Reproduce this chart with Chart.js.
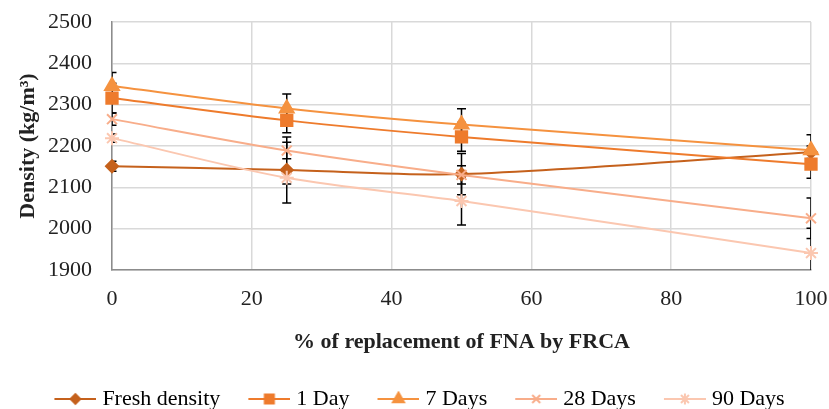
<!DOCTYPE html>
<html>
<head>
<meta charset="utf-8">
<script src="https://cdn.jsdelivr.net/npm/chart.js@4/dist/chart.umd.min.js"></script>
<style>
  html, body { margin: 0; padding: 0; background: #fff; }
  #wrap { width: 829px; height: 409px; }
</style>
</head>
<body>
<div id="wrap"><canvas id="densityChart" width="829" height="409"></canvas></div>
<script>
// replacement levels (% of FNA replaced by FRCA)
const replacement = [0, 25, 50, 100];

const seriesNames = ["Fresh density", "1 Day", "7 Days", "28 Days", "90 Days"];

// density values, kg/m3
const freshDensity = [2151, 2142, 2132, 2185];
const day1 = [2316, 2262, 2222, 2156];
const day7 = [2345, 2291, 2252, 2190];
const day28 = [2265, 2189, 2130, 2025];
const day90 = [2219, 2123, 2067, 1941];

// standard deviations (error bars)
const freshErr = [12, 80, 50, 15];
const day1Err = [36, 30, 35, 34];
const day7Err = [33, 35, 38, 37];
const day28Err = [15, 20, 22, 49];
const day90Err = [10, 15, 58, 60];

const yTicks = [1900, 2000, 2100, 2200, 2300, 2400, 2500];
const xTicks = [0, 20, 40, 60, 80, 100];

const colors = ["#c5611c", "#ee7b2c", "#f5923f", "#f8ad8a", "#fbc7b0"];
const markers = ["rectRot", "rect", "triangle", "crossRot", "star"];
const markerSizes = [6, 8, 8, 7, 7];

const values = [freshDensity, day1, day7, day28, day90];
const errors = [freshErr, day1Err, day7Err, day28Err, day90Err];

const FONT = "'Liberation Serif', 'DejaVu Serif', serif";

// legend swatch: line with marker in the middle (Excel style)
// left part of the canvas is left empty to space the items
function makeSwatch(i) {
  const c = document.createElement("canvas");
  c.width = 75;
  c.height = 16;
  const g = c.getContext("2d");
  g.strokeStyle = colors[i];
  g.fillStyle = colors[i];
  g.lineWidth = 2;
  g.beginPath();
  g.moveTo(33, 8);
  g.lineTo(75, 8);
  g.stroke();
  Chart.helpers.drawPoint(g, {
    pointStyle: markers[i],
    radius: markerSizes[i] * 0.8,
    rotation: 0,
    borderWidth: 2
  }, 54, 8);
  return c;
}

// black error bars, drawn under the series
const errorBars = {
  id: "errorBars",
  beforeDatasetsDraw(chart) {
    const ctx = chart.ctx;
    const xs = chart.scales.x;
    const ys = chart.scales.y;
    ctx.save();
    Chart.helpers.clipArea(ctx, chart.chartArea);
    ctx.strokeStyle = "#000";
    ctx.lineWidth = 1.5;
    values.forEach((vals, s) => {
      vals.forEach((v, k) => {
        const px = xs.getPixelForValue(replacement[k]);
        const top = ys.getPixelForValue(v + errors[s][k]);
        const bot = ys.getPixelForValue(v - errors[s][k]);
        ctx.beginPath();
        ctx.moveTo(px, top);
        ctx.lineTo(px, bot);
        ctx.moveTo(px - 4.5, top);
        ctx.lineTo(px + 4.5, top);
        ctx.moveTo(px - 4.5, bot);
        ctx.lineTo(px + 4.5, bot);
        ctx.stroke();
      });
    });
    Chart.helpers.unclipArea(ctx);
    ctx.restore();
  }
};

const datasets = seriesNames.map((name, i) => ({
  label: name,
  data: replacement.map((x, k) => ({ x: x, y: values[i][k] })),
  borderColor: colors[i],
  backgroundColor: colors[i],
  borderWidth: 2,
  pointStyle: markers[i],
  pointRadius: markerSizes[i],
  pointBorderWidth: 2,
  tension: 0.3,
  clip: false,
  order: 5 - i
}));

const ctx = document.getElementById("densityChart").getContext("2d");

new Chart(ctx, {
  type: "line",
  data: { datasets: datasets },
  options: {
    responsive: false,
    animation: false,
    layout: { padding: { top: 22, right: 18, left: 0, bottom: -11 } },
    plugins: {
      tooltip: { enabled: false },
      legend: {
        position: "bottom",
        labels: {
          usePointStyle: true,
          pointStyleWidth: 65,
          padding: 0,
          color: "#222",
          font: { family: FONT, size: 22 },
          generateLabels: function (chart) {
            return seriesNames.map((name, i) => ({
              text: name,
              pointStyle: makeSwatch(i),
              fillStyle: colors[i],
              strokeStyle: colors[i],
              lineWidth: 0,
              hidden: false,
              datasetIndex: i
            }));
          }
        }
      }
    },
    scales: {
      x: {
        type: "linear",
        min: 0,
        max: 100,
        afterBuildTicks: (scale) => { scale.ticks = xTicks.map((v) => ({ value: v })); },
        afterFit: (scale) => {
          scale.height = 118;
          scale.paddingLeft = 0;
          scale.paddingRight = 0;
        },
        grid: { color: "#d9d9d9", lineWidth: 1.5, drawTicks: false },
        border: { color: "#8c8c8c", width: 1.5 },
        ticks: {
          padding: 16,
          color: "#222",
          font: { family: FONT, size: 22 },
          callback: (v) => String(v)
        },
        title: {
          display: true,
          text: "% of replacement of FNA by FRCA",
          color: "#222",
          padding: { top: 4, bottom: 32 },
          font: { family: FONT, size: 22, weight: "bold" }
        }
      },
      y: {
        min: 1900,
        max: 2500,
        afterBuildTicks: (scale) => { scale.ticks = yTicks.map((v) => ({ value: v })); },
        afterFit: (scale) => {
          scale.width = 112;
          scale.paddingTop = 0;
          scale.paddingBottom = 0;
        },
        grid: { color: "#d9d9d9", lineWidth: 1.5, drawTicks: false },
        border: { color: "#8c8c8c", width: 1.5 },
        ticks: {
          padding: 20,
          color: "#222",
          font: { family: FONT, size: 22 },
          callback: (v) => String(v)
        },
        title: {
          display: true,
          text: "Density (kg/m³)",
          color: "#222",
          padding: { top: 15, bottom: 0 },
          font: { family: FONT, size: 22, weight: "bold" }
        }
      }
    }
  },
  plugins: [errorBars]
});
</script>
</body>
</html>
